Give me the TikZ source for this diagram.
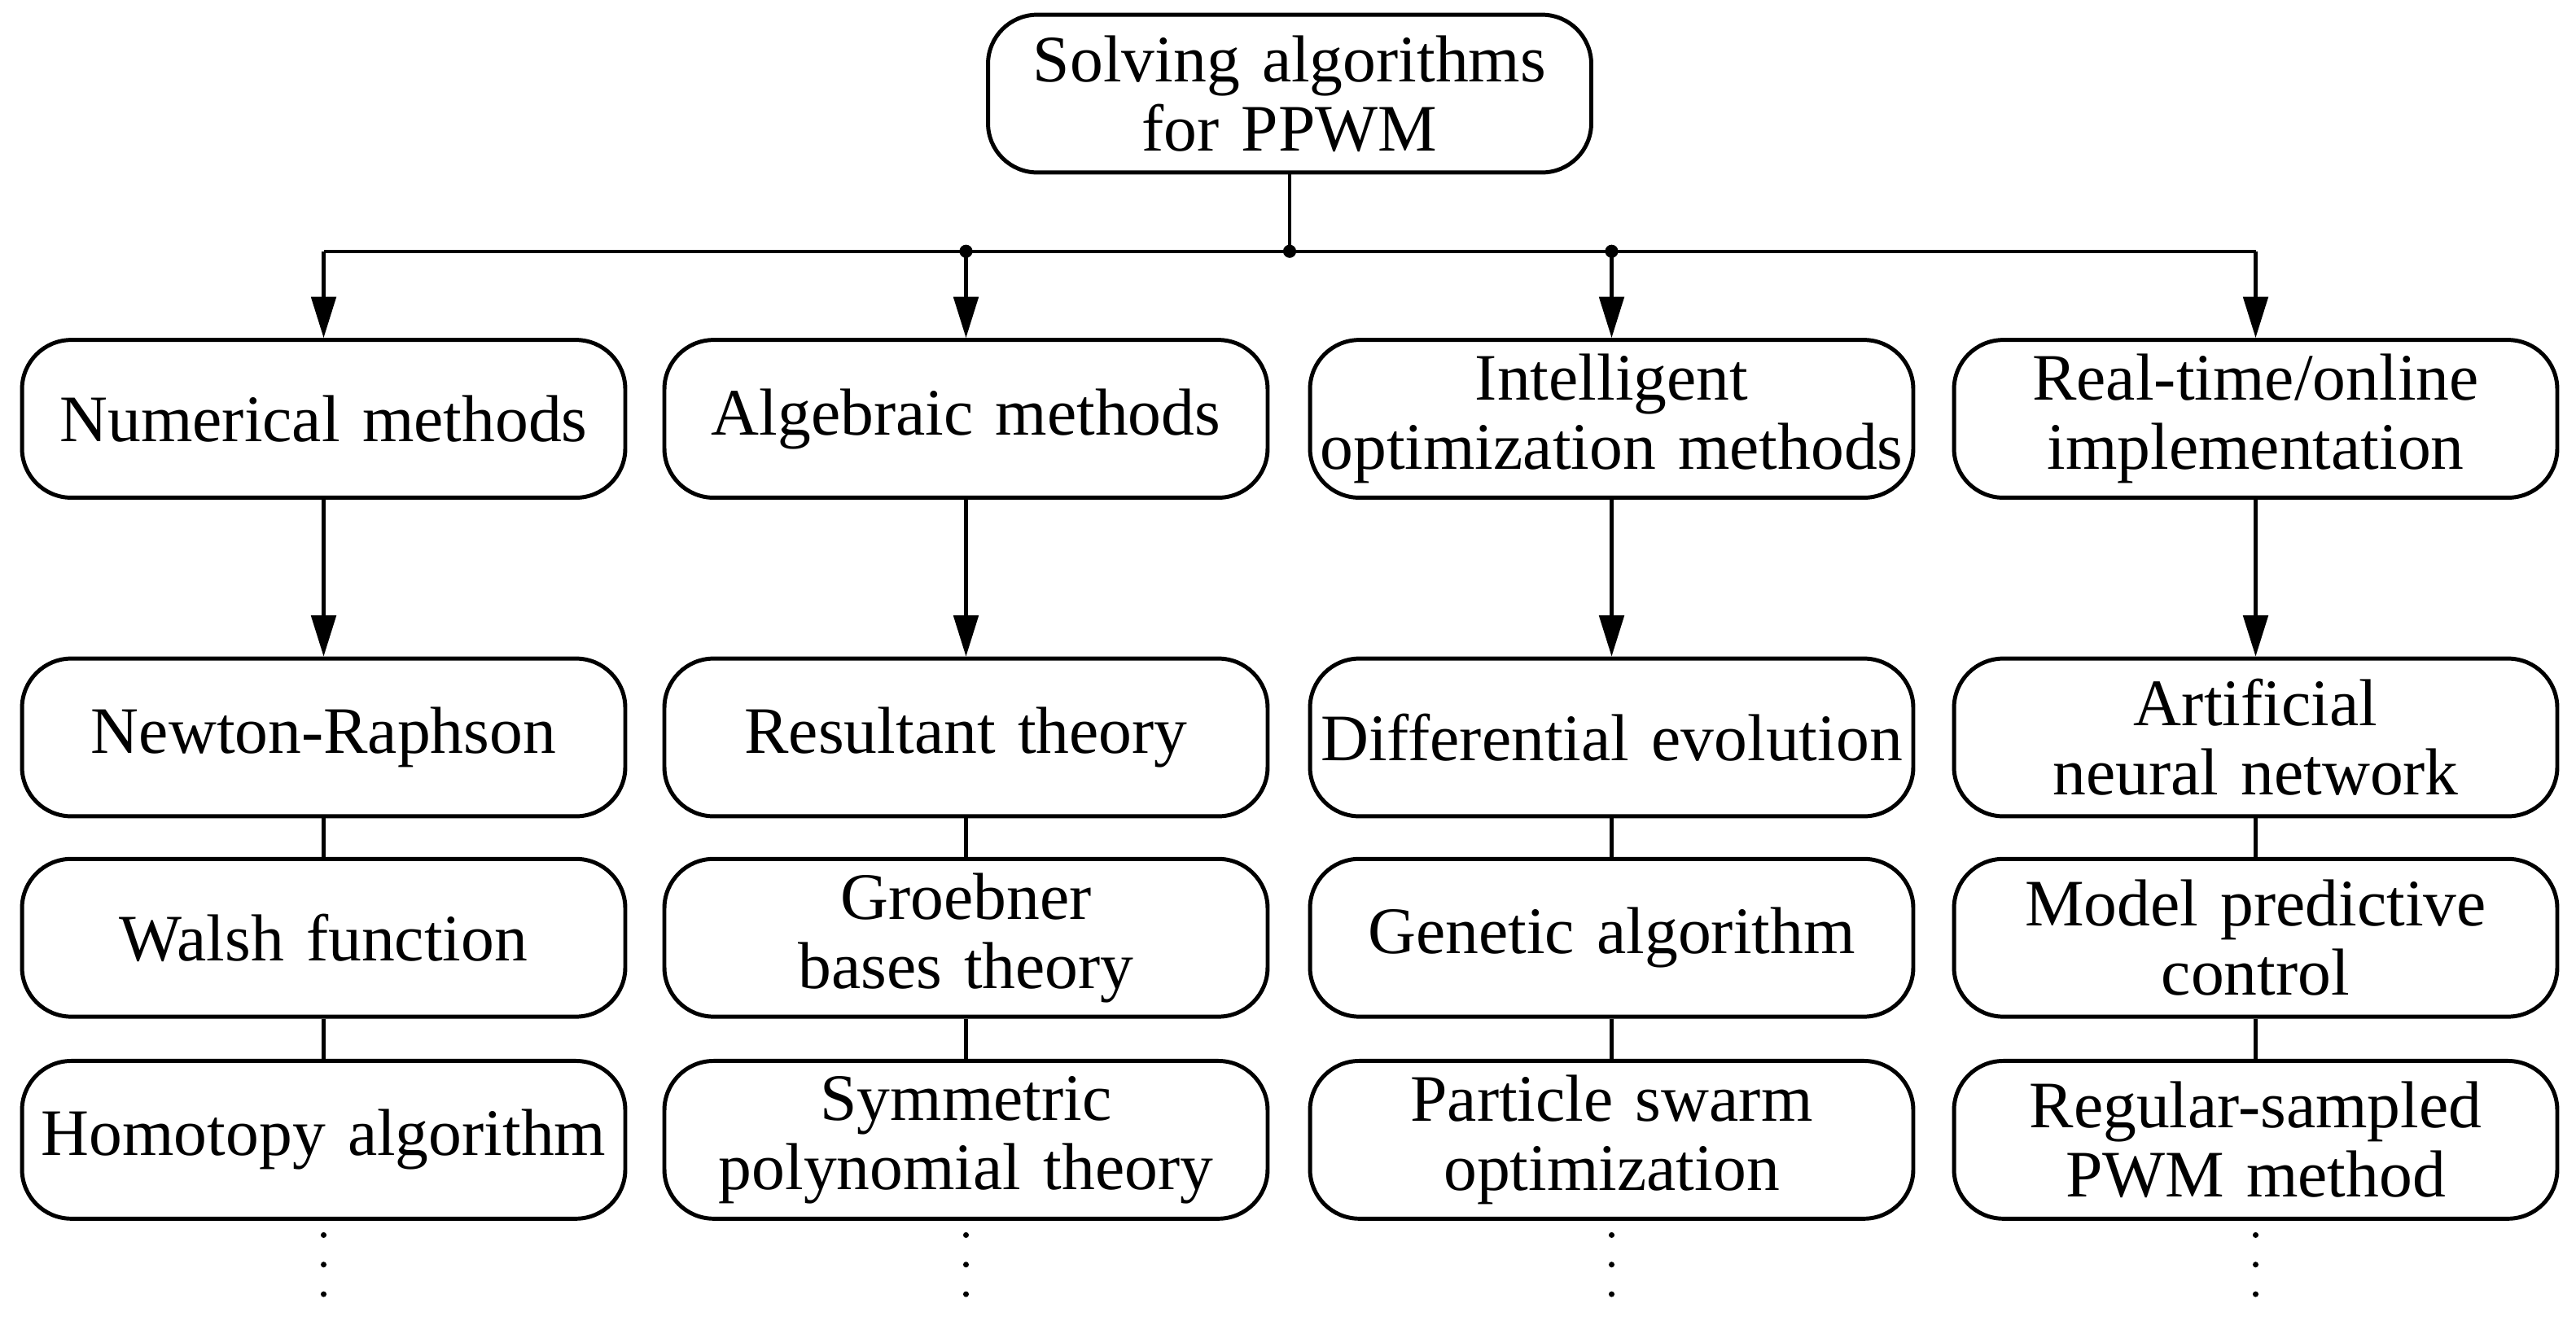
\documentclass[tikz,border=0pt]{standalone}
\usepackage{fontspec}
\setmainfont{Liberation Serif}
\usetikzlibrary{arrows.meta}
\begin{document}
\begin{tikzpicture}[x=0.01cm,y=-0.01cm,
  box/.style={draw,rounded corners=0.3cm,minimum width=3.67cm,text width=3.55cm,minimum height=0.96cm,align=center,font=\fontsize{11.5}{12}\selectfont,inner sep=1pt,line width=0.7pt},
  arr/.style={-{Triangle[length=0.25cm,width=0.15cm]},line width=0.6pt},
  ln/.style={line width=0.6pt},
  dt/.style={circle,fill,inner sep=0pt,minimum size=0.08cm},
  vd/.style={circle,fill,inner sep=0pt,minimum size=0.035cm}]
\useasboundingbox (0,0) rectangle (1568,812);
\node[box] (top) at (785,57) {Solving algorithms\\for PPWM};
\node[box] (a1) at (197,255) {Numerical methods};
\node[box] (b1) at (588,255) {Algebraic methods};
\node[box] (c1) at (981,255) {Intelligent\\optimization methods};
\node[box] (d1) at (1373,255) {Real-time/online\\implementation};
\node[box] (a2) at (197,449) {Newton-Raphson};
\node[box] (b2) at (588,449) {Resultant theory};
\node[box] (c2) at (981,449) {Differential evolution};
\node[box] (d2) at (1373,449) {Artificial\\neural network};
\node[box] (a3) at (197,571) {Walsh function};
\node[box] (b3) at (588,571) {Groebner bases theory};
\node[box] (c3) at (981,571) {Genetic algorithm};
\node[box] (d3) at (1373,571) {Model predictive\\control};
\node[box] (a4) at (197,694) {Homotopy algorithm};
\node[box] (b4) at (588,694) {Symmetric\\polynomial theory};
\node[box] (c4) at (981,694) {Particle swarm\\optimization};
\node[box] (d4) at (1373,694) {Regular-sampled\\PWM method};
\coordinate (j) at (785,153);
\coordinate (ja) at (197,153);
\coordinate (jb) at (588,153);
\coordinate (jc) at (981,153);
\coordinate (jd) at (1373,153);
\draw[ln] (top.south) -- (j);
\draw[ln] (ja) -- (jd);
\node[dt] at (j) {};\node[dt] at (jb) {};\node[dt] at (jc) {};
\foreach \c/\x in {a/197,b/588,c/981,d/1373}{
  \draw[arr] (j\c) -- (\c1.north);
  \draw[arr] (\c1.south) -- (\c2.north);
  \draw[ln] (\c2.south) -- (\c3.north);
  \draw[ln] (\c3.south) -- (\c4.north);
  \node[vd] at (\x,752) {};
  \node[vd] at (\x,770) {};
  \node[vd] at (\x,788) {};
}
\end{tikzpicture}
\end{document}
